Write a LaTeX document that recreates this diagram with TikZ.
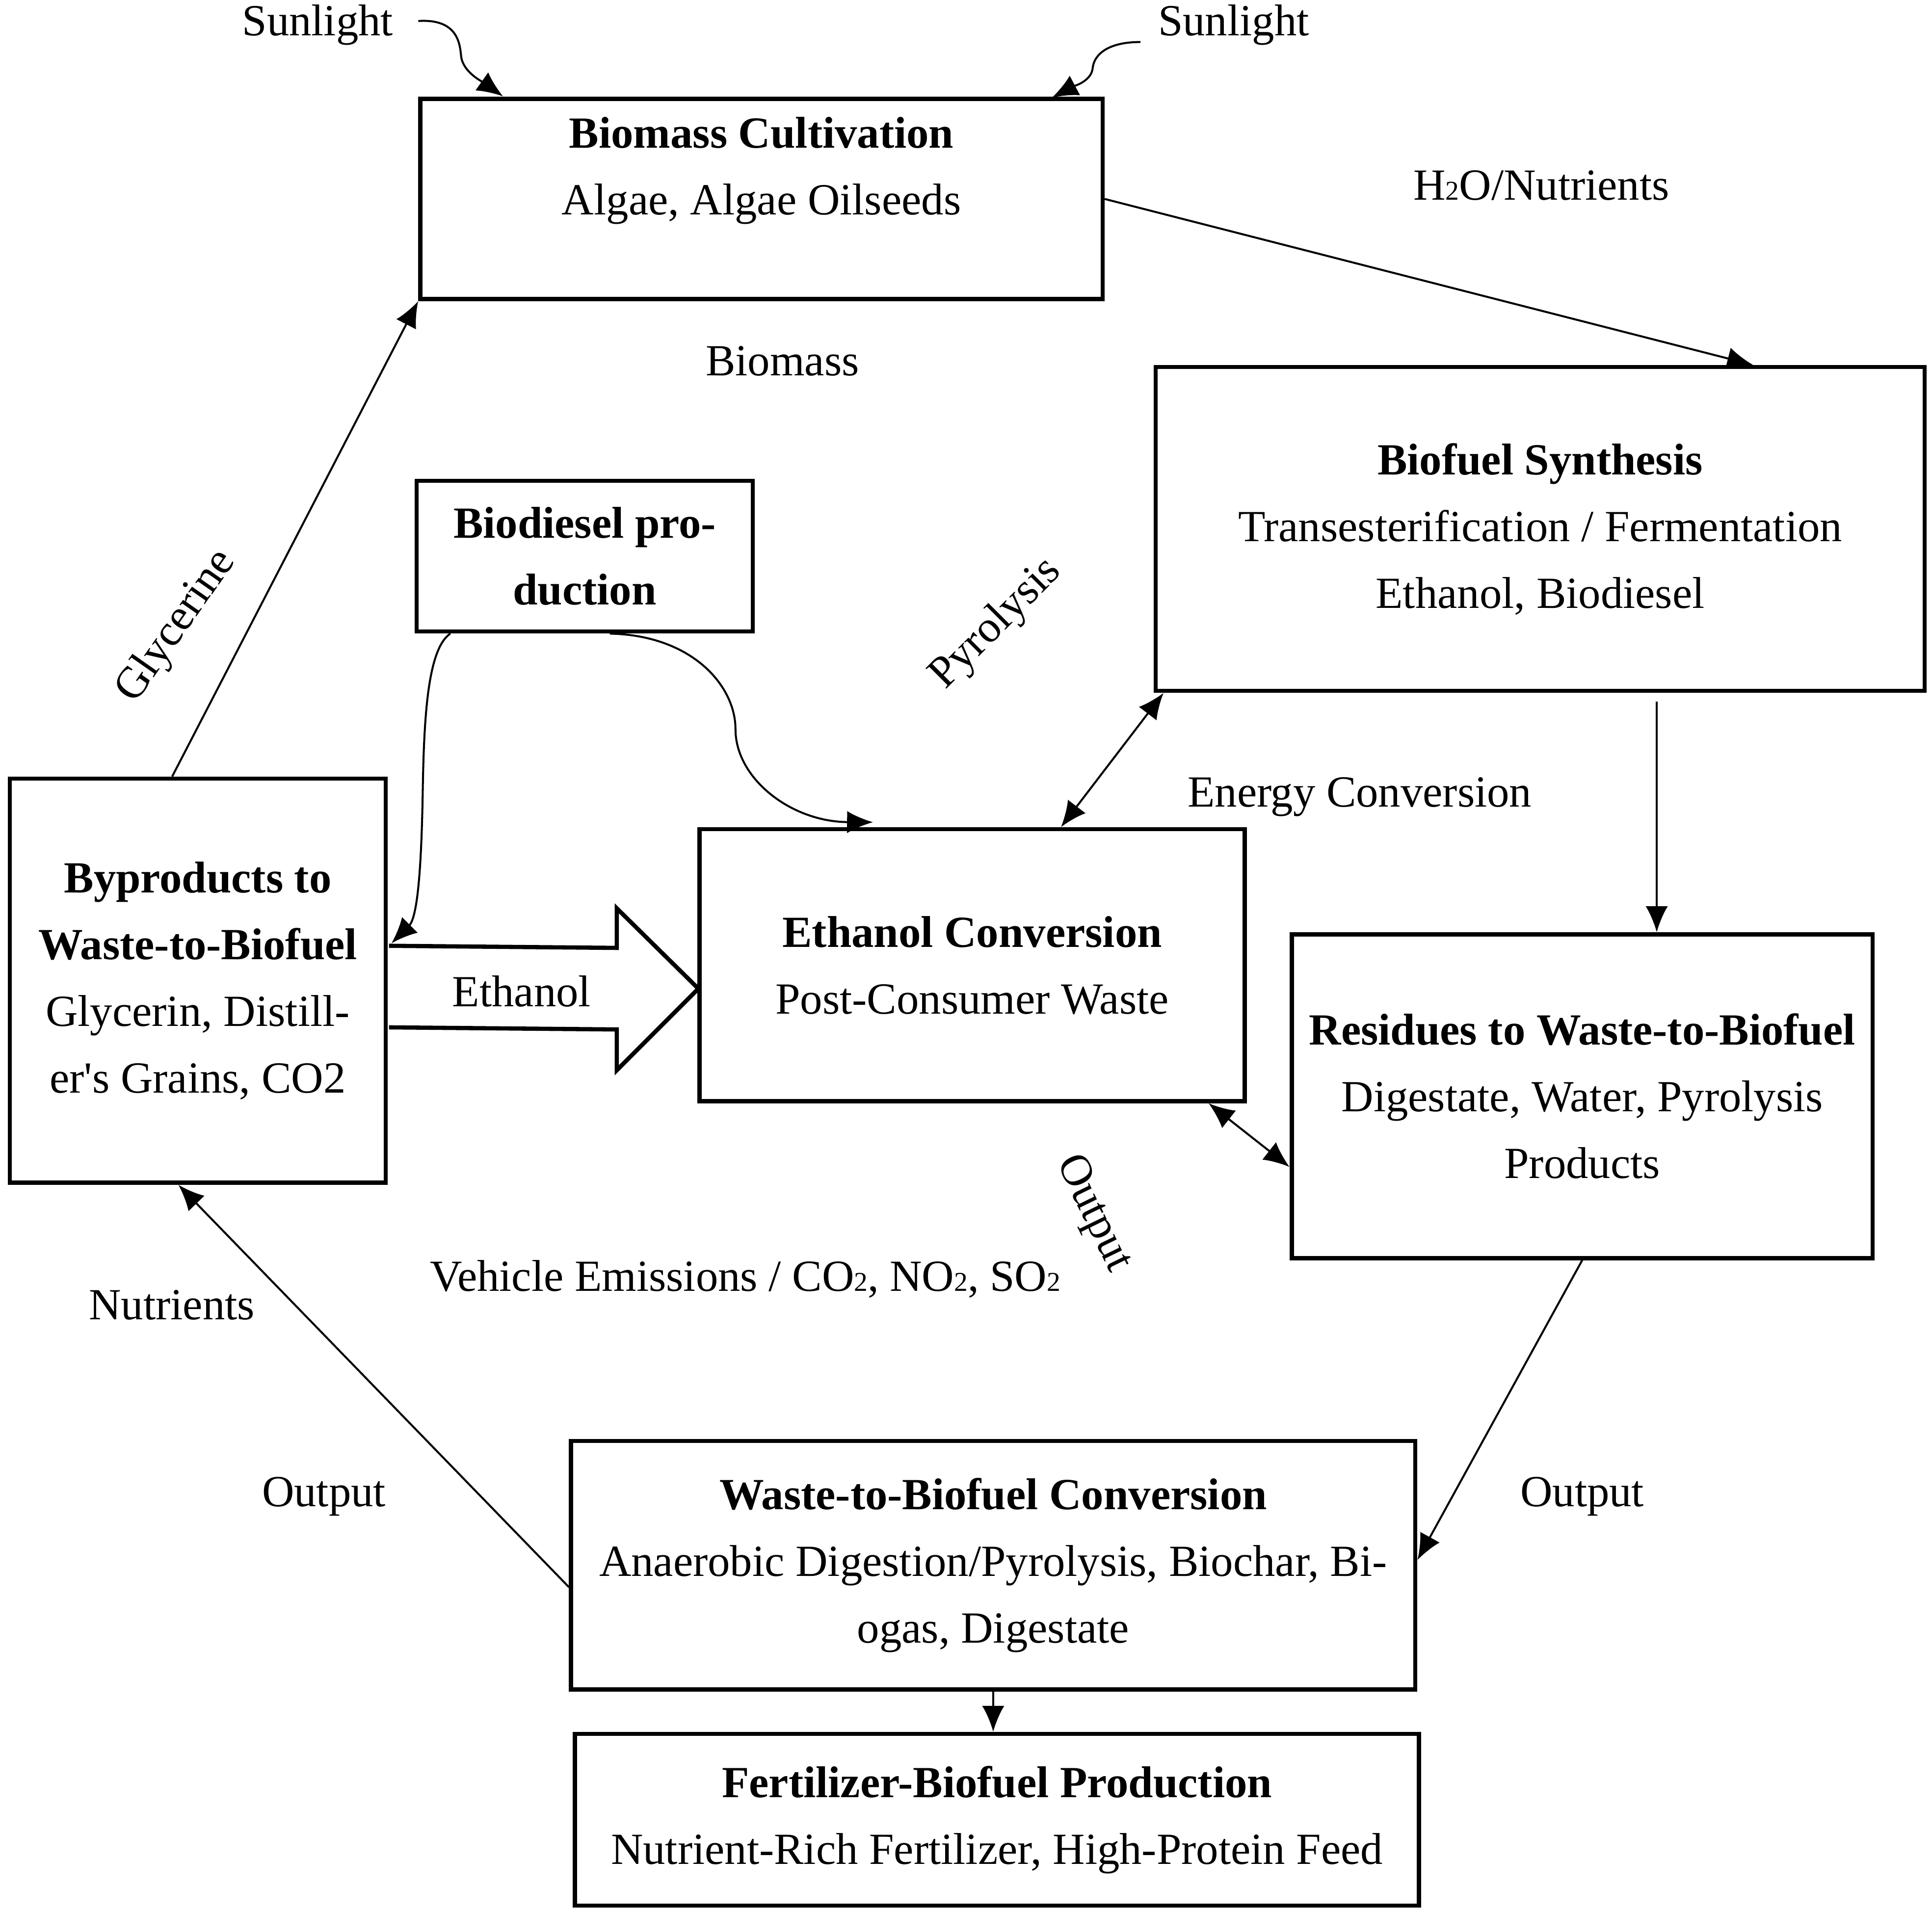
\documentclass[tikz,border=0pt]{standalone}
\usepackage{fontspec}
\setmainfont{Liberation Serif}
\usetikzlibrary{arrows.meta,calc}
\newcommand{\smallsub}[1]{{\fontsize{11}{11}\selectfont #1}}
\begin{document}
\begin{tikzpicture}[x=0.5pt,y=-0.5pt,
  box/.style={draw, line width=1.7pt, inner sep=0pt, align=center, font=\fontsize{18}{27}\selectfont},
  lbl/.style={inner sep=0pt, align=center, font=\fontsize{18}{27}\selectfont},
  arr/.style={line width=0.8pt, -{Latex[length=10.5pt,width=9pt]}},
  darr/.style={line width=0.8pt, {Latex[length=10.5pt,width=9pt]}-{Latex[length=10.5pt,width=9pt]}},
  blockarrow/.style={line width=1.7pt, line join=miter}]
\useasboundingbox (0,0) rectangle (1563,1546);

% boxes
\node[box, minimum width=276pt, minimum height=81pt] (bc) at (616,161) {};
\node[lbl] (bct) at (616,138) {\textbf{Biomass Cultivation}\\Algae, Algae Oilseeds};
\node[box, minimum width=311pt, minimum height=131pt] (bs) at (1246,428) {\textbf{Biofuel Synthesis}\\Transesterification / Fermentation\\Ethanol, Biodiesel};
\node[box, minimum width=136pt, minimum height=61pt] (bd) at (473,450) {\textbf{Biodiesel pro-}\\\textbf{duction}};
\node[box, minimum width=152pt, minimum height=163.5pt] (bp) at (160,793.5) {\textbf{Byproducts to}\\\textbf{Waste-to-Biofuel}\\Glycerin, Distill-\\er\textquotesingle s Grains, CO2};
\node[box, minimum width=220.5pt, minimum height=110pt] (ec) at (786.5,781) {\textbf{Ethanol Conversion}\\Post-Consumer Waste};
\node[box, minimum width=235pt, minimum height=131pt] (rs) at (1280,887) {\textbf{Residues to Waste-to-Biofuel}\\Digestate, Water, Pyrolysis\\Products};
\node[box, minimum width=341.5pt, minimum height=100.5pt] (wc) at (803.5,1266.5) {\textbf{Waste-to-Biofuel Conversion}\\Anaerobic Digestion/Pyrolysis, Biochar, Bi-\\ogas, Digestate};
\node[box, minimum width=341.5pt, minimum height=69.5pt] (fz) at (806.5,1472.5) {\textbf{Fertilizer-Biofuel Production}\\Nutrient-Rich Fertilizer, High-Protein Feed};

% labels
\node[lbl] (sunL) at (257,20) {Sunlight};
\node[lbl] (sunR) at (998,20) {Sunlight};
\node[lbl] (h2o) at (1247,150) {H\smallsub{2}O/Nutrients};
\node[lbl] (bio) at (633,292) {Biomass};
\node[lbl, rotate=55] (gly) at (143,507) {Glycerine};
\node[lbl, rotate=45] (pyr) at (806,505) {Pyrolysis};
\node[lbl] (enc) at (1100,645) {Energy Conversion};
\node[lbl] (eth) at (422,802) {Ethanol};
\node[lbl, rotate=-64] (out1) at (884,982) {Output};
\node[lbl] (veh) at (603,1035) {Vehicle Emissions / CO\smallsub{2}, NO\smallsub{2}, SO\smallsub{2}};
\node[lbl] (nut) at (139,1056) {Nutrients};
\node[lbl] (out2) at (262,1211) {Output};
\node[lbl] (out3) at (1280,1211) {Output};

% block arrow (Ethanol)
\draw[blockarrow] ($(bp.north east)+(1,137)$) -- (499,767) -- (499,735) -- (565,800) -- (499,866) -- (499,833) -- ($(bp.north east)+(1,203)$);

% sunlight arrows
\draw[arr] ($(sunL.east)+(20,-3)$) .. controls (370,15) and (372,35) .. (373,45) .. controls (374,58) and (390,66) .. (407,78);
\draw[arr] ($(sunR.west)+(-14,14)$) .. controls (895,34) and (885,45) .. (884,55) .. controls (883,66) and (868,70) .. (851,79);

% connectors
\draw[arr] (bc.east) -- ($(bs.north west)+(485,0)$);
\draw[arr] ($(bp.north west)+(133,0)$) -- (bc.south west);
\draw[arr] ($(bd.south west)+(29,0)$) .. controls (346,525) and (343,580) .. (342,640) .. controls (341,700) and (338,742) .. ($(bp.north east)+(3,135)$);
\draw[arr] ($(bd.south west)+(158,0)$) .. controls (560,514) and (595,555) .. (595,590) .. controls (595,630) and (640,665) .. ($(ec.north west)+(142,-4)$);
\draw[darr] ($(ec.north west)+(294,0)$) -- ($(bs.south west)+(8,0)$);
\draw[arr] ($(bs.south west)+(407,7)$) -- ($(rs.north west)+(297,0)$);
\draw[darr] ($(ec.south east)+(-31,0)$) -- ($(rs.north west)+(0,190)$);
\draw[arr] (rs.south) -- ($(wc.north east)+(0,98)$);
\draw[arr] ($(wc.north west)+(0,120)$) -- ($(bp.south west)+(138,0)$);
\draw[arr] (wc.south) -- (wc.south |- fz.north);
\end{tikzpicture}
\end{document}
